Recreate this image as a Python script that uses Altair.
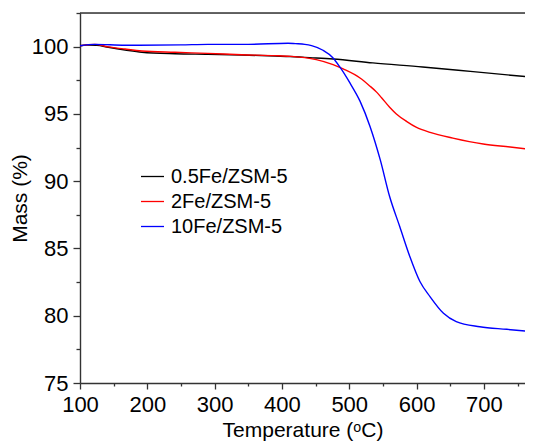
import altair as alt
import pandas as pd

# ---- data ----
series_names = ["0.5Fe/ZSM-5", "2Fe/ZSM-5", "10Fe/ZSM-5"]
series_colors = ["#000000", "#ff0000", "#0000ff"]

black_T = [100, 110, 125, 142, 167, 192, 241, 290, 340, 390, 412, 434, 476, 535, 609, 684, 773]
black_m = [100.07, 100.12, 100.1, 99.95, 99.75, 99.58, 99.47, 99.43, 99.38, 99.3, 99.27, 99.2,
           99.08, 98.79, 98.49, 98.14, 97.72]

red_T = [100, 122, 142, 167, 192, 241, 290, 340, 390, 412, 434, 451, 476, 491, 516, 530, 541,
         548, 560, 570, 585, 600, 620, 654, 699, 739, 773]
red_m = [100.07, 100.17, 99.98, 99.82, 99.68, 99.58, 99.5, 99.4, 99.33, 99.28, 99.18, 99.03,
         98.66, 98.34, 97.67, 97.1, 96.6, 96.2, 95.5, 95.0, 94.45, 94.0, 93.63, 93.2, 92.76,
         92.54, 92.34]

blue_T = [100, 122, 167, 250, 290, 350, 409, 420, 434, 444, 461, 476, 486, 501, 516, 531, 546,
          560, 575, 590, 605, 620, 640, 659, 694, 734, 773]
blue_m = [100.07, 100.17, 100.1, 100.13, 100.17, 100.17, 100.25, 100.22, 100.17, 100.07, 99.73,
          99.16, 98.49, 97.3, 95.95, 94.05, 91.6, 88.86, 86.63, 84.4, 82.54, 81.42, 80.18, 79.56,
          79.18, 78.99, 78.81]

x_ticks = list(range(100, 801, 50))
y_ticks = [75 + 2.5 * i for i in range(12)]

frames = []
for name, T, m in zip(series_names, [black_T, red_T, blue_T], [black_m, red_m, blue_m]):
    frames.append(pd.DataFrame({"T": T, "m": m, "s": name}))
df = pd.concat(frames, ignore_index=True)

W, H = 445, 370
X_MAX = 100 + W / (453 / 673)   # keeps the reference's px-per-degree
FONT = "Liberation Sans"
AX = "#333333"

x_axis = alt.Axis(
    values=[v for v in x_ticks if v <= X_MAX],
    labelExpr="datum.value % 100 ? '' : datum.label",
    tickSize={"condition": {"test": "datum.value % 100 !== 0", "value": 3}, "value": 6},
    grid=False, domainColor=AX, tickColor=AX, domainWidth=1.4, tickWidth=1.3,
    labelFont=FONT, labelFontSize=22, labelColor="#000", labelPadding=5,
    labelFlush=False, labelOverlap=False,
    title="Temperature (ᵒC)", titleFont=FONT, titleFontSize=21, titleFontWeight="normal",
    titleColor="#000", titlePadding=4,
)
y_axis = alt.Axis(
    values=y_ticks,
    labelExpr="datum.value % 5 ? '' : datum.label",
    tickSize={"condition": {"test": "datum.value % 5 !== 0", "value": 4}, "value": 7},
    grid=False, domainColor=AX, tickColor=AX, domainWidth=1.4, tickWidth=1.3,
    labelFont=FONT, labelFontSize=22, labelColor="#000", labelPadding=5,
    labelFlush=False, labelOverlap=False,
    title="Mass (%)", titleFont=FONT, titleFontSize=21, titleFontWeight="normal",
    titleColor="#000", titlePadding=1,
)

lines = alt.Chart(df).mark_line(strokeWidth=1.4, interpolate="monotone", clip=True).encode(
    x=alt.X("T:Q", scale=alt.Scale(domain=[100, X_MAX], nice=False, zero=False), axis=x_axis),
    y=alt.Y("m:Q", scale=alt.Scale(domain=[75, 102.5], nice=False, zero=False), axis=y_axis),
    color=alt.Color(
        "s:N",
        scale=alt.Scale(domain=series_names, range=series_colors),
        sort=series_names,
        legend=alt.Legend(
            title=None, orient="none", legendX=60, legendY=151,
            symbolType="stroke", symbolSize=529, symbolStrokeWidth=1.3,
            labelFont=FONT, labelFontSize=20, labelColor="#000", labelOffset=6,
            rowPadding=2, padding=0,
        ),
    ),
    detail="s:N",
)

top_frame = alt.Chart(pd.DataFrame({"k": [0]})).mark_rule(color=AX, strokeWidth=1.4).encode(
    x=alt.value(0), x2=alt.value(W), y=alt.value(0)
)

chart = alt.layer(lines, top_frame).properties(
    width=W, height=H,
    padding={"left": 72, "top": 5, "right": 0, "bottom": 71},
    autosize=alt.AutoSizeParams(type="none"),
).configure_view(stroke=None).configure(background="white")

chart.save("out.html", embed_options={"renderer": "svg", "actions": False})
